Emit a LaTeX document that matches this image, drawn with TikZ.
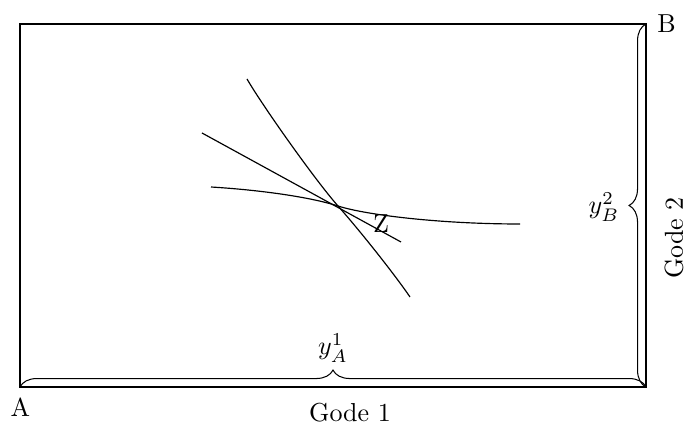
\documentclass[tikz,border=0pt]{standalone}
\usetikzlibrary{decorations.pathreplacing}
\begin{document}
\begin{tikzpicture}[x=0.3846pt,y=-0.3846pt,
  curveline/.style={line width=0.45pt},
  bracedeco/.style={decorate,decoration={brace,amplitude=6.5pt}},
  lbl/.style={inner sep=0pt}]
\useasboundingbox (0,0) rectangle (686,425);
\coordinate (A0) at (20,387);
\coordinate (B0) at (646,24);
\coordinate (BR) at (646,387);
\coordinate (Z0) at (338,206);
\draw (A0) rectangle (B0);
\draw[bracedeco] (A0) -- (BR);
\draw[bracedeco] (BR) -- (B0);
% indifference curves and price line
\coordinate (S1) at (247,79);
\coordinate (S2) at (410,297);
\draw[curveline] (S1) .. controls (262,105) and (315,180) .. (Z0)
                      .. controls (361,232) and (395,275) .. (S2);
\coordinate (F1) at (211,187);
\coordinate (F2) at (520,224);
\draw[curveline] (F1) .. controls (260,190) and (310,197) .. (Z0)
                      .. controls (366,215) and (440,224) .. (F2);
\coordinate (L1) at (202,133);
\coordinate (L2) at (401,242);
\draw[curveline] (L1) -- (L2);
\node[lbl] (zlab) at (381,224) {Z};
\node[lbl] (alab) at (20.5,407) {A};
\node[lbl] (blab) at (666.5,24) {B};
\node[lbl] (g1) at (350,413) {Gode 1};
\node[lbl,rotate=90] (g2) at (674,238) {Gode 2};
\node[lbl] (ya) at (333,348) {$y_A^1$};
\node[lbl] (yb) at (604,207) {$y_B^2$};
\end{tikzpicture}
\end{document}
